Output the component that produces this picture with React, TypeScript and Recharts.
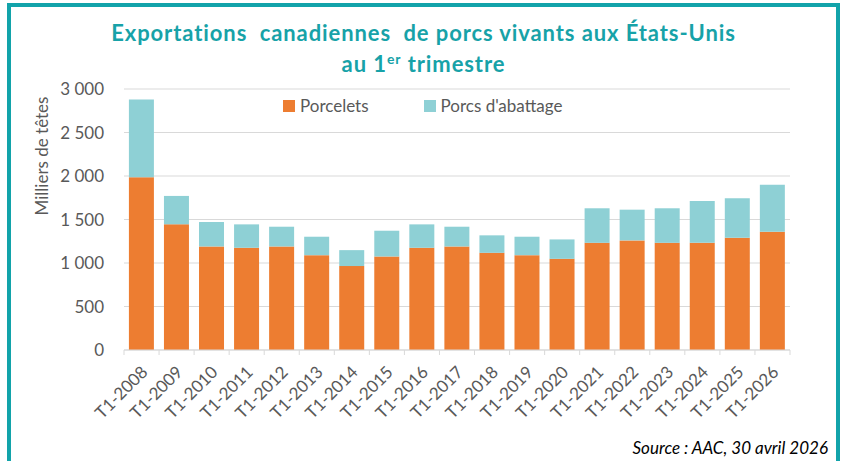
import React from 'react';
import { BarChart, Bar, XAxis, YAxis, CartesianGrid } from 'recharts';

const categories = [
  'T1-2008', 'T1-2009', 'T1-2010', 'T1-2011', 'T1-2012', 'T1-2013', 'T1-2014',
  'T1-2015', 'T1-2016', 'T1-2017', 'T1-2018', 'T1-2019', 'T1-2020', 'T1-2021',
  'T1-2022', 'T1-2023', 'T1-2024', 'T1-2025', 'T1-2026',
];
const porcelets = [
  1985, 1445, 1190, 1175, 1190, 1090, 965, 1075, 1175, 1190,
  1117, 1090, 1048, 1232, 1260, 1232, 1232, 1290, 1360,
];
const porcsAbattage = [
  895, 326, 281, 269, 227, 212, 183, 296, 269, 227,
  201, 212, 223, 397, 353, 397, 481, 454, 538,
];
const yTicks = [0, 500, 1000, 1500, 2000, 2500, 3000];

const data = categories.map((name, i) => ({
  name,
  porcelets: porcelets[i],
  abattage: porcsAbattage[i],
}));

const FONT = 'Lato, "Open Sans", sans-serif';
const TEAL = '#12A3AA';
const ORANGE = '#ED7D31';
const LIGHT_TEAL = '#8ED0D5';
const GREY_TEXT = '#595959';

const fmt = (v: number) => v.toLocaleString('fr-FR').replace(/\u202f|\u00a0/g, ' ');

// Excel puts tick marks between the categories, not under them
const BAND = 666 / categories.length;

const XTick = (props: any) => {
  const { x, y, payload, index } = props;
  const ax = x + 3;
  const ay = y + 11;
  return (
    <g>
      <line x1={x - BAND / 2} x2={x - BAND / 2} y1={y - 8} y2={y - 3} stroke="#D9D9D9" />
      {index === categories.length - 1 && (
        <line x1={x + BAND / 2} x2={x + BAND / 2} y1={y - 8} y2={y - 3} stroke="#D9D9D9" />
      )}
      <text
        x={ax}
        y={ay}
        textAnchor="end"
        transform={`rotate(-45 ${ax} ${ay})`}
        fill={GREY_TEXT}
        fontSize={17}
        fontFamily={FONT}
        dy="0.35em"
      >
        {payload.value}
      </text>
    </g>
  );
};

export default function App() {
  return (
    <div
      style={{
        position: 'absolute',
        left: 0,
        top: 0,
        width: 841,
        height: 461,
        background: '#fff',
        overflow: 'hidden',
      }}
    >
      <div
        style={{
          position: 'absolute',
          left: 7,
          top: 3,
          width: 825,
          height: 480,
          border: `4px solid ${TEAL}`,
        }}
      />
      <div
        style={{
          position: 'absolute',
          left: 0,
          width: 841,
          top: 17,
          textAlign: 'center',
          color: '#17A2A8',
          fontFamily: FONT,
          fontWeight: 700,
          fontSize: 22,
          letterSpacing: 0.9,
          lineHeight: '31px',
          whiteSpace: 'pre',
        }}
      >
        <div style={{ marginLeft: 6 }}>Exportations  canadiennes  de porcs vivants aux États-Unis</div>
        <div style={{ marginLeft: 6 }}>
          au 1<sup style={{ fontSize: 14, lineHeight: 0 }}>er</sup> trimestre
        </div>
      </div>
      <div style={{ position: 'absolute', left: 0, top: 0 }}>
        <BarChart
          width={841}
          height={461}
          data={data}
          margin={{ top: 89, right: 51, left: 64, bottom: 51 }}
          barCategoryGap="14%"
        >
          <CartesianGrid vertical={false} stroke="#D9D9D9" />
          <XAxis
            dataKey="name"
            interval={0}
            height={60}
            axisLine={{ stroke: '#D9D9D9' }}
            tickLine={false}
            tick={<XTick />}
          />
          <YAxis
            width={60}
            domain={[0, 3000]}
            ticks={yTicks}
            interval={0}
            tickFormatter={fmt}
            axisLine={false}
            tickLine={false}
            tick={{ fill: GREY_TEXT, fontSize: 17, fontFamily: FONT }}
            tickMargin={14}
            label={{
              content: () => (
                <text
                  x={48}
                  y={156}
                  transform="rotate(-90 48 156)"
                  textAnchor="middle"
                  fill={GREY_TEXT}
                  fontSize={17}
                  fontFamily={FONT}
                >
                  Milliers de têtes
                </text>
              ),
            }}
          />
          <Bar dataKey="porcelets" stackId="a" fill={ORANGE} isAnimationActive={false} />
          <Bar dataKey="abattage" stackId="a" fill={LIGHT_TEAL} isAnimationActive={false} />
        </BarChart>
      </div>
      <div
        style={{
          position: 'absolute',
          left: 283,
          top: 95,
          display: 'flex',
          fontFamily: FONT,
          fontSize: 17,
          color: GREY_TEXT,
          lineHeight: '22px',
        }}
      >
        <div style={{ display: 'flex', alignItems: 'center', marginRight: 55 }}>
          <span style={{ width: 12, height: 12, background: ORANGE, marginRight: 5 }} />
          Porcelets
        </div>
        <div style={{ display: 'flex', alignItems: 'center' }}>
          <span style={{ width: 12, height: 12, background: LIGHT_TEAL, marginRight: 5 }} />
          Porcs d'abattage
        </div>
      </div>
      <div
        style={{
          position: 'absolute',
          right: 13,
          top: 437,
          fontFamily: FONT,
          fontStyle: 'italic',
          fontWeight: 400,
          fontSize: 17,
          color: '#000',
        }}
      >
        Source : AAC, 30 avril 2026
      </div>
    </div>
  );
}
